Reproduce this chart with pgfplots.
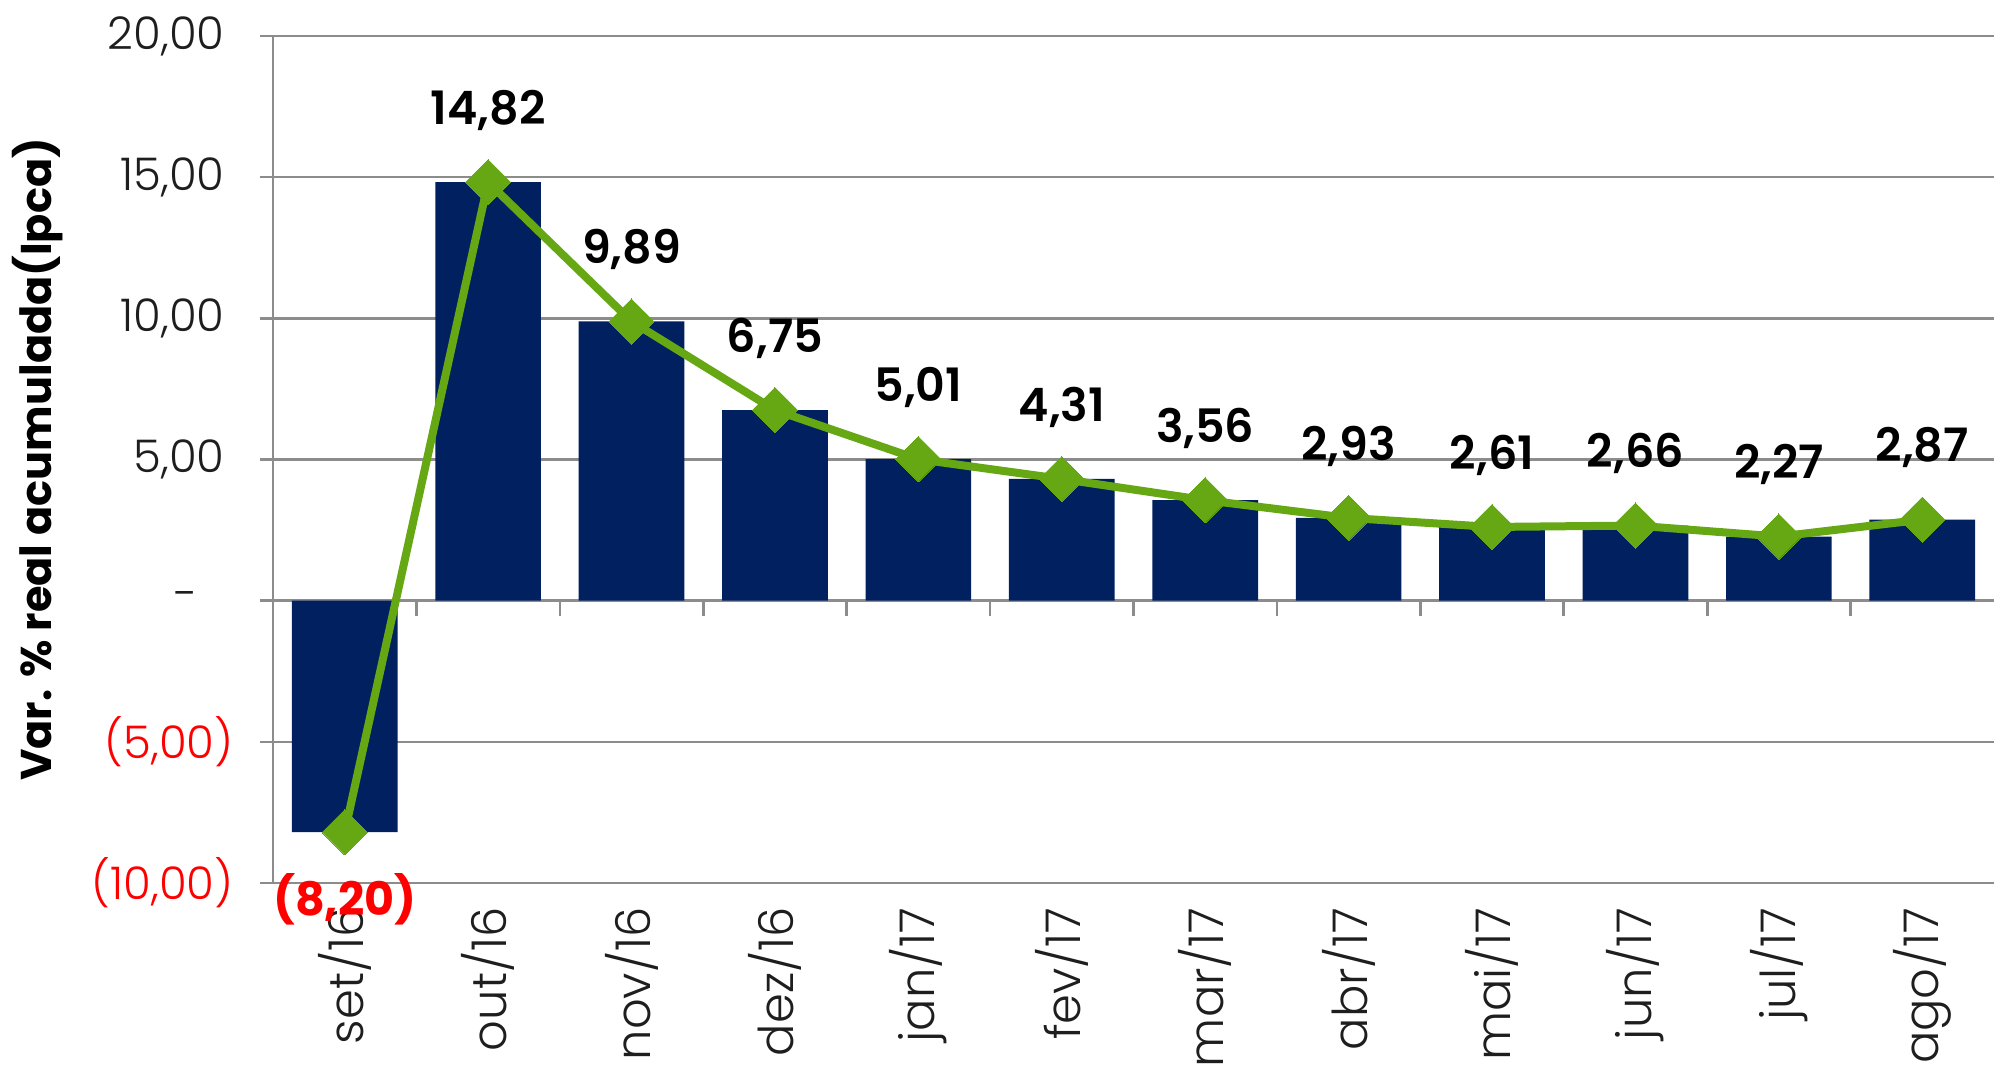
\documentclass[border=0pt]{standalone}
\usepackage{pgfplots}
\pgfplotsset{compat=1.18}
\usepackage{fontspec}
\setmainfont{Poppins}
\newfontfamily\lightfont{Poppins Light}
\newfontfamily\semifont{Poppins SemiBold}
\usetikzlibrary{calc}
\definecolor{navy}{RGB}{0,32,96}
\definecolor{lgreen}{RGB}{102,168,20}
\definecolor{gridgray}{RGB}{140,140,140}
\definecolor{txt}{RGB}{30,30,30}
\begin{document}
\begin{tikzpicture}
\begin{axis}[
 scale only axis, width=516.3pt, height=254.1pt,
 xmin=-0.5, xmax=11.5, ymin=-10, ymax=20,
 axis lines*=left,
 axis line style={draw=gridgray, line width=0.8pt},
 ymajorgrids, grid style={gridgray, line width=0.8pt},
 ytick={-10,-5,0,5,10,15,20},
 yticklabels={{\color{red}(10,00)},{\color{red}(5,00)},{-\rule{10.7pt}{0pt}},{5,00\rule{2.7pt}{0pt}},{10,00\rule{2.7pt}{0pt}},{15,00\rule{2.7pt}{0pt}},{20,00\rule{2.7pt}{0pt}}},
 xtick={0,...,11},
 xticklabels={set/16,out/16,nov/16,dez/16,jan/17,fev/17,mar/17,abr/17,mai/17,jun/17,jul/17,ago/17},
 x tick style={draw=none},
 y tick style={draw=gridgray, line width=0.8pt},
 tick align=outside, major tick length=4pt,
 yticklabel style={font=\lightfont\fontsize{13.5}{16}\selectfont, text=txt, xshift=-4.3pt},
 xticklabel style={font=\lightfont\fontsize{14.4}{16}\selectfont, text=txt, rotate=90, anchor=east, xshift=0.2pt},
 ylabel={Var. \% real acumulada(Ipca)},
 ylabel style={font=\bfseries\fontsize{12.9}{16}\selectfont, at={([xshift=-70.5pt]axis description cs:0,0.5)}, anchor=center},
 clip=false,
]
\addplot[ybar, bar width=31.7pt, fill=navy, draw=none] coordinates {
(0,-8.20) (1,14.82) (2,9.89) (3,6.75) (4,5.01) (5,4.31) (6,3.56) (7,2.93) (8,2.61) (9,2.66) (10,2.27) (11,2.87)};
\addplot[lgreen, line width=2.4pt, mark=square*, mark size=4.8pt, mark options={rotate=45, fill=lgreen, draw=lgreen, line width=0pt}] coordinates {
(0,-8.20) (1,14.82) (2,9.89) (3,6.75) (4,5.01) (5,4.31) (6,3.56) (7,2.93) (8,2.61) (9,2.66) (10,2.27) (11,2.87)};
\addplot[draw=none, mark=none, nodes near coords, point meta=explicit symbolic,
 nodes near coords style={anchor=center, yshift=21.6pt, font=\semifont\fontsize{13.8}{16}\selectfont, text=black}]
 table[meta=label] {
x y label
1 14.82 14,82
2 9.89 9,89
3 6.75 6,75
4 5.01 5,01
5 4.31 4,31
6 3.56 3,56
7 2.93 2,93
8 2.61 2,61
9 2.66 2,66
10 2.27 2,27
11 2.87 2,87
};
\addplot[draw=none, mark=none, nodes near coords, point meta=explicit symbolic,
 nodes near coords style={anchor=center, yshift=-20pt, font=\bfseries\fontsize{13.8}{16}\selectfont, text=red}]
 table[meta=label] {
x y label
0 -8.20 (8,20)
};
\foreach \b in {0.5,1.5,2.5,3.5,4.5,5.5,6.5,7.5,8.5,9.5,10.5} {
 \edef\tmp{\noexpand\draw[gridgray, line width=0.8pt] (axis cs:\b,0) -- ++(0pt,-4.5pt);}\tmp
}
\end{axis}
\pgfresetboundingbox
\path[use as bounding box] ($(current axis.south west)+(-81.9pt,-55.8pt)$) rectangle ($(current axis.north east)+(0pt,10.8pt)$);
\end{tikzpicture}
\end{document}
